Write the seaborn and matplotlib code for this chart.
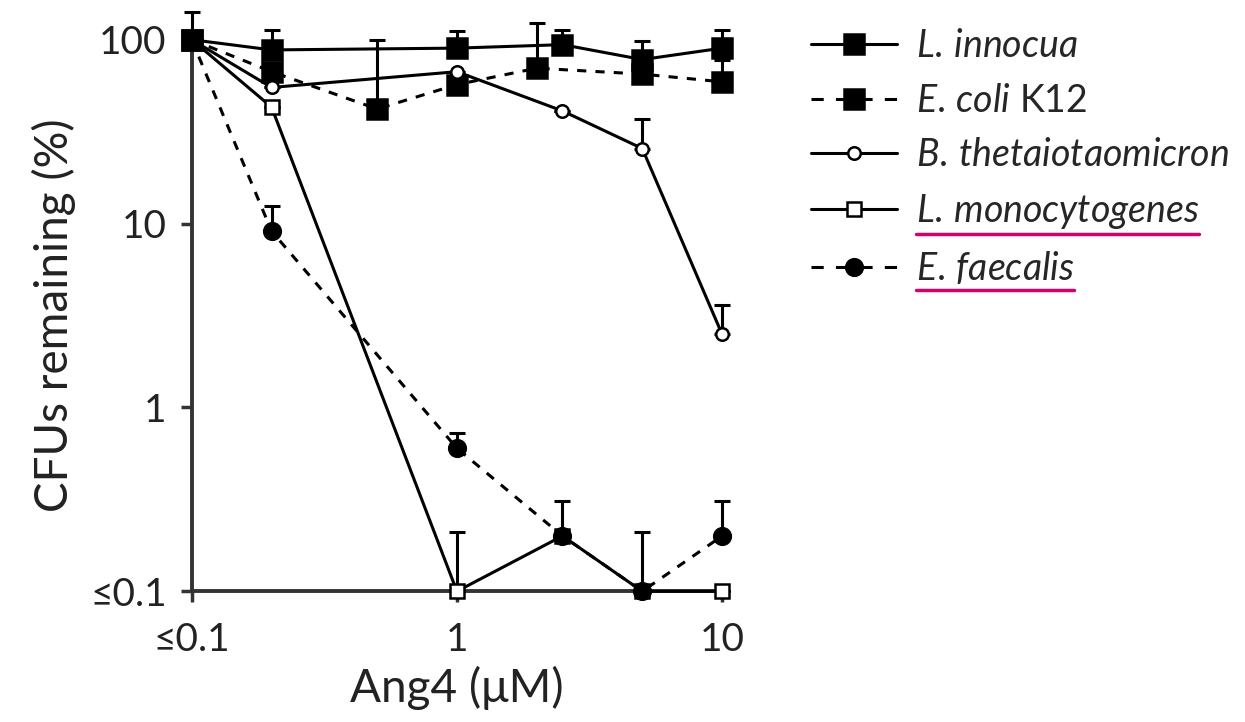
import numpy as np
import matplotlib
matplotlib.use("Agg")
import matplotlib.pyplot as plt
import seaborn as sns
from matplotlib.ticker import FixedLocator, FixedFormatter, NullLocator
from matplotlib.lines import Line2D

sns.set_style("ticks")
plt.rcParams['font.family'] = ['Lato', 'DejaVu Sans']
plt.rcParams['mathtext.fontset'] = 'custom'
plt.rcParams['mathtext.it'] = 'Lato:italic'
plt.rcParams['mathtext.rm'] = 'Lato'

# --- data (CFUs remaining, %) ---
innocua_x = [0.1, 0.2, 1, 2.5, 5, 10]
innocua_y = [100, 88, 90, 94, 78, 90]
innocua_top = [142, 113, 111, 113, 98, 113]

coli_x = [0.1, 0.2, 0.5, 1, 2, 5, 10]
coli_y = [100, 67, 42, 57, 70, 65, 59]
coli_top = [100, 67, 100, 57, 123, 65, 78]

theta_x = [0.1, 0.2, 1, 2.5, 5, 10]
theta_y = [100, 55, 67, 41, 25.6, 2.5]
theta_top = [100, 55, 67, 41, 37, 3.6]

mono_x = [0.1, 0.2, 1, 2.5, 5, 10]
mono_y = [100, 43, 0.1, 0.2, 0.1, 0.1]
mono_top = [100, 43, 0.21, 0.31, 0.21, 0.1]

faecalis_x = [0.1, 0.2, 1, 2.5, 5, 10]
faecalis_y = [100, 9.1, 0.6, 0.2, 0.1, 0.2]
faecalis_top = [100, 12.5, 0.73, 0.2, 0.1, 0.31]

x_ticks = [0.1, 1, 10]
x_ticklabels = ['≤0.1', '1', '10']
y_ticks = [0.1, 1, 10, 100]
y_ticklabels = ['≤0.1', '1', '10', '100']

series = [
    ('$\\mathit{L.\\,innocua}$', innocua_x, innocua_y, innocua_top, '-', 's', 'black', 14),
    ('$\\mathit{E.\\,coli}$ K12', coli_x, coli_y, coli_top, (0, (3, 3)), 's', 'black', 14),
    ('$\\mathit{B.\\,thetaiotaomicron}$', theta_x, theta_y, theta_top, '-', 'o', 'white', 9),
    ('$\\mathit{L.\\,monocytogenes}$', mono_x, mono_y, mono_top, '-', 's', 'white', 10),
    ('$\\mathit{E.\\,faecalis}$', faecalis_x, faecalis_y, faecalis_top, (0, (3, 3)), 'o', 'black', 12),
]

fig = plt.figure(figsize=(12.45, 7.22), dpi=100)
ax = fig.add_axes([0.154, 0.181, 0.426, 0.764])
ax.set_xscale('log')
ax.set_yscale('log')

for name, xs, ys, tops, ls, mk, fc, ms in series:
    xs = np.array(xs)
    ys = np.array(ys)
    up = np.array(tops) - ys
    eb = ax.errorbar(xs, ys, yerr=[np.zeros_like(up), up], fmt='none', ecolor='black',
                     elinewidth=2.2, capsize=6, capthick=2.2, zorder=2)
    for art in list(eb.lines[1]) + list(eb.lines[2]):
        art.set_clip_on(False)
    sns.lineplot(x=xs, y=ys, ax=ax, color='black', linewidth=2.2, linestyle=ls,
                 marker=mk, markersize=ms, markerfacecolor=fc, markeredgecolor='black',
                 markeredgewidth=1.8, clip_on=False, label=name, zorder=3)

ax.set_xlim(0.1, 10)
ax.set_ylim(0.1, 100)
ax.xaxis.set_major_locator(FixedLocator(x_ticks))
ax.xaxis.set_major_formatter(FixedFormatter(x_ticklabels))
ax.yaxis.set_major_locator(FixedLocator(y_ticks))
ax.yaxis.set_major_formatter(FixedFormatter(y_ticklabels))
ax.xaxis.set_minor_locator(NullLocator())
ax.yaxis.set_minor_locator(NullLocator())

sns.despine(ax=ax)
for side in ['left', 'bottom']:
    ax.spines[side].set_linewidth(2.8)
    ax.spines[side].set_color('#333333')
ax.tick_params(axis='both', direction='out', length=8, width=2.5, color='#333333',
               labelsize=28, labelcolor='#222222')
ax.tick_params(axis='y', pad=10)
ax.tick_params(axis='x', pad=14)

ax.set_xlabel('Ang4 (μM)', fontsize=33, labelpad=6, color='#222222')
ax.set_ylabel('CFUs remaining (%)', fontsize=33, labelpad=10, color='#222222')

handles, labels = ax.get_legend_handles_labels()
ax.get_legend().remove()
leg = fig.legend(handles, labels, loc='upper left', bbox_to_anchor=(0.639, 0.982),
                 frameon=False, fontsize=27, labelspacing=0.5, handlelength=2.3,
                 handletextpad=0.5, borderaxespad=0)
for h, s in zip(leg.legend_handles, series):
    if s[4] != '-':
        h.set_linestyle((0, (4, 4)))

# magenta underlines under the last two species names
fig.canvas.draw()
renderer = fig.canvas.get_renderer()
W, H = fig.bbox.width, fig.bbox.height
for t in leg.get_texts()[3:]:
    bb = t.get_window_extent(renderer)
    y = bb.y0 - 3
    fig.add_artist(Line2D([bb.x0 / W, bb.x1 / W], [y / H, y / H], transform=fig.transFigure,
                          color='#D6006B', linewidth=2.5))

fig.savefig('out.png', dpi=100)
